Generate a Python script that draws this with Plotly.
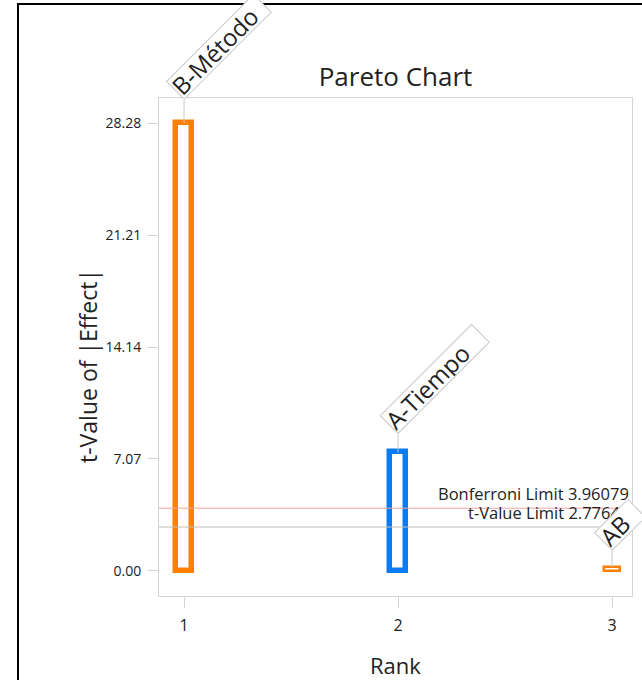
import plotly.graph_objects as go

# Pareto chart of standardized effects
ranks = [1, 2, 3]
terms = ["B-Método", "A-Tiempo", "AB"]
t_values = [28.28, 7.48, 0.25]
bar_colors = ["#FF8000", "#0A7CF2", "#FF8000"]

y_ticks = [0.00, 7.07, 14.14, 21.21, 28.28]
bonferroni_limit = 3.96079
t_limit = 2.77645

FONT = "Open Sans"
TXT = "#222222"
AXIS_GRAY = "#D4D4D4"
BOX_GRAY = "#C8C8C8"

W, H = 642, 680
ML, MR, MT, MB = 159, 10, 98, 84
PW, PH = W - ML - MR, H - MT - MB


def px_to_paper_x(px):
    return (px - ML) / PW


def px_to_paper_y(py):
    return (H - MB - py) / PH


fig = go.Figure()

fig.add_trace(go.Bar(
    x=ranks,
    y=t_values,
    width=0.075,
    marker=dict(color="white",
                line=dict(color=bar_colors, width=[5.5, 5.5, 2.5])),
    hoverinfo="x+y",
    showlegend=False,
))

shapes = [
    # reference lines for the significance limits
    dict(type="line", xref="paper", x0=0, x1=1, yref="y",
         y0=bonferroni_limit, y1=bonferroni_limit,
         line=dict(color="#F3A3A3", width=1)),
    dict(type="line", xref="paper", x0=0, x1=1, yref="y",
         y0=t_limit, y1=t_limit,
         line=dict(color="#BDBDBD", width=1)),
    # outer frame around the whole chart
    dict(type="rect", xref="paper", yref="paper",
         x0=px_to_paper_x(18), x1=px_to_paper_x(700),
         y0=px_to_paper_y(760), y1=px_to_paper_y(4),
         line=dict(color="black", width=2), fillcolor="rgba(0,0,0,0)"),
]

limit_font = dict(family=FONT, size=16.5, color=TXT)
annotations = [
    dict(text=f"Bonferroni Limit {bonferroni_limit:.5f}", xref="paper", x=1,
         yref="y", y=bonferroni_limit, xanchor="right", yanchor="bottom",
         height=17, valign="bottom",
         xshift=-1, yshift=1, showarrow=False, font=limit_font),
    dict(text=f"t-Value Limit {t_limit:.5f}", xref="paper", x=1,
         yref="y", y=t_limit, xanchor="right", yanchor="bottom",
         height=17, valign="bottom",
         xshift=-1, yshift=1, showarrow=False, font=limit_font),
    # axis titles
    dict(text="t-Value of |Effect|", xref="paper", yref="paper",
         x=px_to_paper_x(88), y=px_to_paper_y(366), textangle=-90,
         xanchor="center", yanchor="middle", showarrow=False,
         font=dict(family=FONT, size=23, color=TXT)),
    dict(text="Rank", xref="paper", yref="paper",
         x=0.5, y=px_to_paper_y(665),
         xanchor="center", yanchor="middle", showarrow=False,
         font=dict(family=FONT, size=22, color=TXT)),
]

# term labels: a short connector rising from each bar into a tilted tag
label_font = 24
tag_h = 24
tag_w = [122, 128, 46]
leads = [23, 18, 16]
for r, term, v, tw, lead in zip(ranks, terms, t_values, tag_w, leads):
    shapes.append(dict(type="line", xref="x", x0=r, x1=r,
                       yref="y", ysizemode="pixel", yanchor=v, y0=0, y1=lead,
                       line=dict(color=BOX_GRAY, width=1)))
    annotations.append(dict(
        text=term, x=r, y=v, xref="x", yref="y",
        xanchor="left", yanchor="bottom", textangle=-45, align="left",
        width=tw, height=tag_h,
        xshift=-0.707 * (tag_h + 2), yshift=lead, showarrow=False,
        bgcolor="white", bordercolor=BOX_GRAY, borderwidth=1, borderpad=0,
        font=dict(family=FONT, size=label_font, color=TXT),
    ))

fig.update_layout(
    width=W, height=H,
    margin=dict(l=ML, r=MR, t=MT, b=MB),
    paper_bgcolor="white", plot_bgcolor="white",
    font=dict(family=FONT, color=TXT),
    title=dict(text="Pareto Chart", x=0.5, xref="paper", xanchor="center",
               y=1 - 77 / H, yanchor="middle",
               font=dict(family=FONT, size=26, color=TXT)),
    shapes=shapes,
    annotations=annotations,
    bargap=0,
)

fig.update_xaxes(
    range=[0.883, 3.093], tickvals=ranks, ticktext=[str(r) for r in ranks],
    showgrid=False, zeroline=False,
    showline=True, mirror=True, linecolor=AXIS_GRAY, linewidth=1,
    ticks="outside", ticklen=11, tickcolor=AXIS_GRAY,
    ticklabelstandoff=4,
    tickfont=dict(family=FONT, size=16, color=TXT),
)
fig.update_yaxes(
    range=[-1.58, 29.86], tickvals=y_ticks, ticktext=[f"{t:.2f}" for t in y_ticks],
    showgrid=False, zeroline=False,
    showline=True, mirror=True, linecolor=AXIS_GRAY, linewidth=1,
    ticks="outside", ticklen=10, tickcolor=AXIS_GRAY,
    ticklabelstandoff=4,
    tickfont=dict(family=FONT, size=14, color=TXT),
)

fig.write_html("out.html")
